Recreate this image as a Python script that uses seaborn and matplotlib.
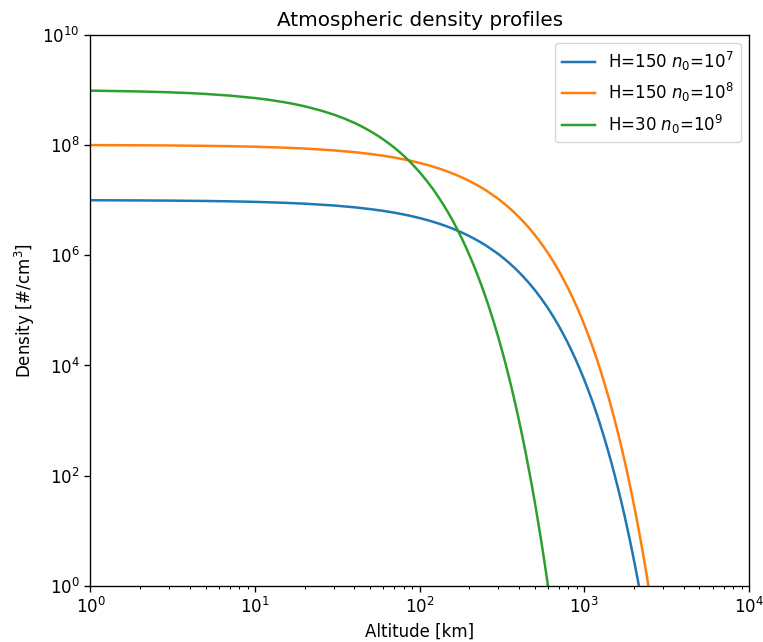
import numpy as np
import pandas as pd
import matplotlib
matplotlib.use("Agg")
import matplotlib.pyplot as plt
import seaborn as sns

# Values (altitude in km, density in #/cm^3)
alt_h150 = [1, 2, 3, 5, 7, 10, 15, 20, 30, 40, 50, 60, 70, 85, 100, 115,
            130, 145, 160, 180, 200, 225, 250, 275, 300, 325, 350, 375, 400,
            425, 450, 475, 500, 550, 600, 650, 700, 750, 800, 850, 900, 950,
            1000, 1050, 1100, 1150, 1200, 1250, 1300, 1350, 1400, 1450, 1500,
            1550, 1600, 1650, 1700, 1750, 1800, 1850, 1900, 1950, 2000, 2050,
            2100, 2150, 2200, 2250, 2300, 2350, 2400, 2450, 2500, 2550, 2600]
dens_n7 = [9.93e6, 9.85e6, 9.78e6, 9.63e6, 9.49e6, 9.28e6, 8.93e6, 8.60e6,
           7.98e6, 7.40e6, 6.86e6, 6.37e6, 5.91e6, 5.28e6, 4.71e6, 4.21e6,
           3.76e6, 3.36e6, 3.00e6, 2.58e6, 2.22e6, 1.84e6, 1.53e6, 1.26e6,
           1.05e6, 8.68e5, 7.19e5, 5.96e5, 4.94e5, 4.09e5, 3.39e5, 2.81e5,
           2.33e5, 1.60e5, 1.10e5, 7.54e4, 5.18e4, 3.55e4, 2.44e4, 1.67e4,
           1.15e4, 7.90e3, 5.42e3, 3.72e3, 2.56e3, 1.76e3, 1.21e3, 828, 568,
           390, 268, 184, 126, 86.7, 59.6, 40.9, 28.1, 19.3, 13.2, 9.08, 6.24,
           4.28, 2.94, 2.02, 1.39, 0.952, 0.65, 0.449, 0.31, 0.211, 0.145,
           0.0998, 0.068, 0.047, 0.032]
dens_n8 = [9.93e7, 9.85e7, 9.78e7, 9.63e7, 9.49e7, 9.28e7, 8.93e7, 8.60e7,
           7.98e7, 7.40e7, 6.86e7, 6.37e7, 5.91e7, 5.28e7, 4.71e7, 4.21e7,
           3.76e7, 3.36e7, 3.00e7, 2.58e7, 2.22e7, 1.84e7, 1.53e7, 1.26e7,
           1.05e7, 8.68e6, 7.19e6, 5.96e6, 4.94e6, 4.09e6, 3.39e6, 2.81e6,
           2.33e6, 1.60e6, 1.10e6, 7.54e5, 5.18e5, 3.55e5, 2.44e5, 1.67e5,
           1.15e5, 7.90e4, 5.42e4, 3.72e4, 2.56e4, 1.76e4, 1.21e4, 8280, 5680,
           3900, 2680, 1840, 1260, 867, 596, 409, 281, 193, 132, 90.8, 62.4,
           42.8, 29.4, 20.2, 13.9, 9.52, 6.5, 4.49, 3.1, 2.11, 1.45,
           0.998, 0.68, 0.47, 0.32]

alt_h30 = [1, 2, 3, 4, 5, 7, 10, 12, 15, 17, 20, 25, 30, 35, 40, 45, 50, 55,
           60, 65, 70, 75, 80, 85, 90, 100, 110, 120, 130, 140, 150, 160, 170,
           180, 190, 200, 212, 225, 237, 250, 262, 275, 287, 300, 315, 330,
           345, 360, 375, 390, 405, 420, 435, 450, 465, 480, 495, 510, 525,
           540, 555, 570, 585, 600, 615, 630]
dens_n9 = [9.66e8, 9.33e8, 9.02e8, 8.71e8, 8.41e8, 7.85e8, 7.08e8, 6.61e8,
           5.96e8, 5.57e8, 5.02e8, 4.22e8, 3.56e8, 2.99e8, 2.52e8, 2.12e8,
           1.78e8, 1.50e8, 1.26e8, 1.06e8, 8.95e7, 7.54e7, 6.34e7, 5.34e7,
           4.50e7, 3.18e7, 2.25e7, 1.60e7, 1.13e7, 8.02e6, 5.68e6, 4.03e6,
           2.85e6, 2.02e6, 1.43e6, 1.01e6, 6.70e5, 4.28e5, 2.83e5, 1.81e5,
           1.20e5, 7.64e4, 5.06e4, 3.23e4, 1.92e4, 1.15e4, 6.84e3, 4.08e3,
           2.43e3, 1.45e3, 865, 516, 308, 183, 109, 65.2, 38.9, 23.2, 13.8,
           8.24, 4.92, 2.93, 1.75, 1.04, 0.62, 0.37]

labels = [r'H=150 $n_0$=$10^7$', r'H=150 $n_0$=$10^8$', r'H=30 $n_0$=$10^9$']

profiles = [
    pd.DataFrame({'alt': alt_h150, 'density': dens_n7}),
    pd.DataFrame({'alt': alt_h150, 'density': dens_n8}),
    pd.DataFrame({'alt': alt_h30, 'density': dens_n9}),
]
colors = sns.color_palette('tab10', 3)

scale = 1.2
plt.rcParams['font.size'] = 10 * scale
plt.rcParams['axes.linewidth'] = 0.8 * scale
for ax_name in ('xtick', 'ytick'):
    plt.rcParams[f'{ax_name}.major.size'] = 3.5 * scale
    plt.rcParams[f'{ax_name}.minor.size'] = 2 * scale
    plt.rcParams[f'{ax_name}.major.width'] = 0.8 * scale
    plt.rcParams[f'{ax_name}.minor.width'] = 0.6 * scale

fig, ax = plt.subplots(figsize=(7.63, 6.42), dpi=100)
fig.subplots_adjust(left=0.1186, right=0.9817, top=0.946, bottom=0.0872)

for df, lab, col in zip(profiles, labels, colors):
    sns.lineplot(data=df, x='alt', y='density', ax=ax, label=lab,
                 color=col, linewidth=1.5 * scale, sort=True)

ax.set_xscale('log')
ax.set_yscale('log')
ax.set_xlim(1, 1e4)
ax.set_ylim(1, 1e10)
ax.set_xlabel('Altitude [km]')
ax.set_ylabel(r'Density [#/cm$^3$]')
ax.set_title('Atmospheric density profiles', fontsize=12 * scale)
ax.legend(loc='upper right')

fig.savefig('out.png', dpi=100)
